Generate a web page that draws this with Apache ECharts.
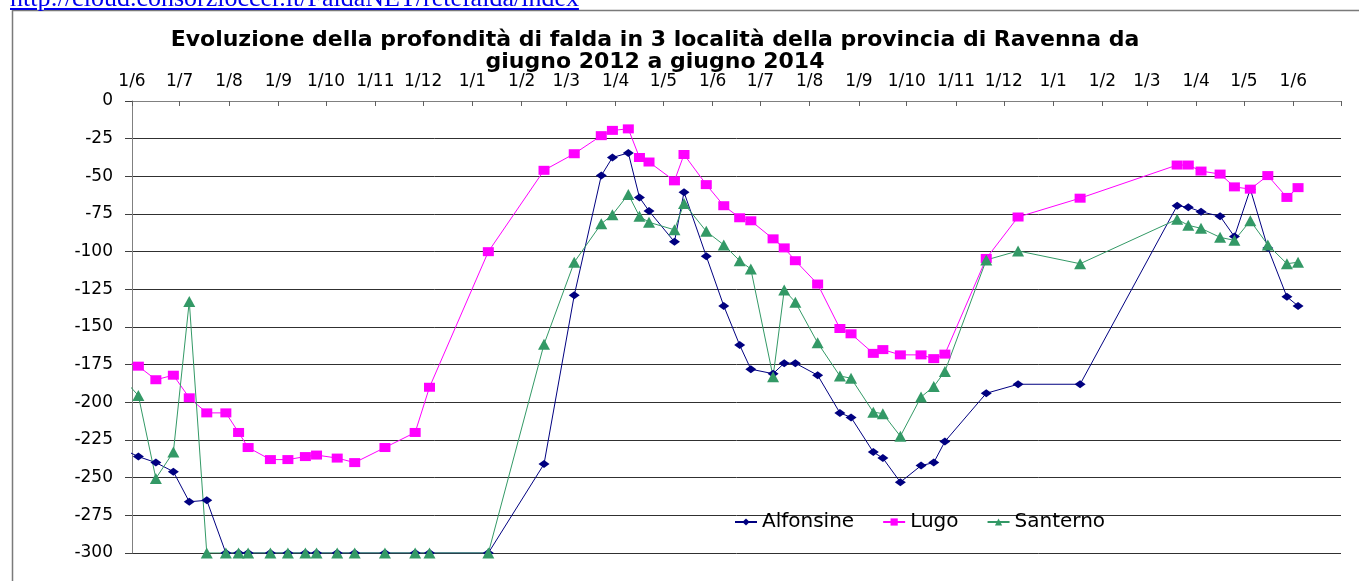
<!DOCTYPE html>
<html>
<head>
<meta charset="utf-8">
<script src="https://cdn.jsdelivr.net/npm/echarts@6/dist/echarts.min.js"></script>
<style>
html,body{margin:0;padding:0;background:#fff;overflow:hidden;}
#wrap{position:relative;width:1359px;height:581px;overflow:hidden;}
#link{position:absolute;left:10px;top:-17px;font-family:"Liberation Serif","Times New Roman",serif;font-size:26px;color:#0000EE;text-decoration:underline;white-space:nowrap;z-index:2;}
#chart{position:absolute;left:0;top:0;width:1359px;height:581px;}
</style>
</head>
<body>
<div id="wrap">
<div id="link">http://cloud.consorzioccer.it/FaldaNET/retefalda/index</div>
<div id="chart"></div>
</div>
<script>
// ---- data ----
const titleLines = [
  'Evoluzione della profondità di falda in 3 località della provincia di Ravenna da',
  'giugno 2012 a giugno 2014'
];
const seriesNames = ['Alfonsine', 'Lugo', 'Santerno'];
const axisStart = '2012-06-01';
const axisEnd = '2014-07-01';
const dates = [
  '2012-05-20',
  '2012-06-05','2012-06-16','2012-06-27','2012-07-07','2012-07-18','2012-07-30','2012-08-07','2012-08-13','2012-08-27',
  '2012-09-07','2012-09-18','2012-09-25','2012-10-08','2012-10-19','2012-11-07','2012-11-26','2012-12-05',
  '2013-01-11','2013-02-15','2013-03-06','2013-03-23','2013-03-30','2013-04-09','2013-04-16','2013-04-22','2013-05-08',
  '2013-05-14','2013-05-28','2013-06-08','2013-06-18','2013-06-25','2013-07-09','2013-07-16','2013-07-23','2013-08-06',
  '2013-08-20','2013-08-27','2013-09-10','2013-09-16','2013-09-27','2013-10-10','2013-10-18','2013-10-25','2013-11-20','2013-12-10',
  '2014-01-18','2014-03-20','2014-03-27','2014-04-04','2014-04-16','2014-04-25','2014-05-05','2014-05-16','2014-05-28','2014-06-04'
];
const alfonsine = [
  -228,
  -236, -240, -246, -266, -265, -300, -300, -300, -300,
  -300, -300, -300, -300, -300, -300, -300, -300,
  -300, -241, -129, -49.5, -37.5, -34.5, -64, -73, -93.5,
  -60.5, -103, -136, -162, -178, -181, -174, -174, -182,
  -207, -210, -233, -237, -253, -242, -240, -226, -194, -188,
  -188, -69.5, -70.5, -73.5, -76.5, -90, -58.5, -97.5, -130, -136
];
const lugo = [
  -171,
  -176, -185, -182, -197, -207, -207, -220, -230, -238,
  -238, -236, -235, -237, -240, -230, -220, -190,
  -100, -46, -35, -23, -19.5, -18.5, -37.5, -40.5, -53,
  -35.5, -55.5, -69.5, -77.5, -79.5, -91.5, -97.5, -106, -121.5,
  -151, -154.5, -167.5, -165, -168.5, -168.5, -171, -168, -104.5, -77,
  -64.5, -42.5, -42.5, -46.5, -48.5, -57, -58.5, -49.5, -64, -57.5
];
const santerno = [
  -177,
  -195.5, -250.5, -233, -133, -300, -300, -300, -300, -300,
  -300, -300, -300, -300, -300, -300, -300, -300,
  -300, -161.5, -107, -81.5, -75.5, -62, -76.5, -80.5, -85.5,
  -68, -86.5, -95.5, -106, -111.5, -183, -125.5, -133.5, -160.5,
  -182.5, -184, -206.5, -207.5, -222.5, -196.5, -189.5, -179.5, -105.5, -99.5,
  -108, -78.5, -82.5, -84.5, -90.5, -92.5, -79.5, -95.5, -108, -107
];

// ---- helpers ----
function toDate(s) {
  const p = s.split('-').map(Number);
  return new Date(p[0], p[1] - 1, p[2]).getTime();
}
const tMin = toDate(axisStart), tMax = toDate(axisEnd);
function pairs(vals) { return dates.map((d, i) => [toDate(d), vals[i]]); }

const FONT = '"DejaVu Sans", "Liberation Sans", Arial, sans-serif';
const chart = echarts.init(document.getElementById('chart'), null, { renderer: 'canvas' });

const seriesStyle = [
  { color: '#000080', symbol: 'diamond', size: [11, 8] },
  { color: '#FF00FF', symbol: 'rect', size: [11, 9] },
  { color: '#339966', symbol: 'triangle', size: [12, 11] }
];
const seriesData = [alfonsine, lugo, santerno];

chart.setOption({
  animation: false,
  backgroundColor: '#ffffff',
  title: {
    text: titleLines.join('\n'),
    left: 655,
    top: 29,
    textAlign: 'center',
    padding: 0,
    textStyle: { fontFamily: FONT, fontWeight: 'bold', fontSize: 22, lineHeight: 22, color: '#000' }
  },
  graphic: [{
    type: 'rect',
    silent: true,
    shape: { x: 12.5, y: 10.5, width: 1400, height: 700 },
    style: { fill: 'none', stroke: '#7a7a7a', lineWidth: 1.5 },
    z: -1
  }],
  grid: { left: 132, top: 101, right: 18, bottom: 28, containLabel: false },
  legend: {
    data: seriesNames,
    left: 734,
    top: 512,
    padding: 0,
    itemWidth: 22,
    itemHeight: 9,
    itemGap: 28,
    textStyle: { fontFamily: FONT, fontSize: 20, color: '#000' }
  },
  xAxis: {
    type: 'time',
    position: 'top',
    min: tMin,
    max: tMax,
    splitNumber: 25,
    minInterval: 28 * 86400000,
    maxInterval: 31 * 86400000,
    axisLine: { show: true, lineStyle: { color: '#808080', width: 1 } },
    axisTick: { show: true, inside: true, length: 5, lineStyle: { color: '#606060' } },
    splitLine: { show: false },
    axisLabel: {
      margin: 11,
      fontFamily: FONT,
      fontSize: 17,
      color: '#000',
      fontWeight: 'normal',
      hideOverlap: false,
      formatter: function (v) {
        if (v >= tMax) return '';
        const d = new Date(v);
        return d.getDate() + '/' + (d.getMonth() + 1);
      }
    }
  },
  yAxis: {
    type: 'value',
    min: -300,
    max: 0,
    interval: 25,
    axisLine: { show: true, lineStyle: { color: '#808080', width: 1 } },
    axisTick: { show: true, inside: false, length: 7, lineStyle: { color: '#404040' } },
    splitLine: { show: true, lineStyle: { color: '#303030', width: 1 } },
    axisLabel: { margin: 19, fontFamily: FONT, fontSize: 17, color: '#000' }
  },
  series: seriesNames.map((name, i) => ({
    name: name,
    type: 'line',
    data: pairs(seriesData[i]),
    symbol: seriesStyle[i].symbol,
    symbolSize: seriesStyle[i].size,
    showAllSymbol: true,
    clip: true,
    itemStyle: { color: seriesStyle[i].color },
    lineStyle: { color: seriesStyle[i].color, width: 1 },
    emphasis: { disabled: true }
  }))
});
</script>
</body>
</html>
